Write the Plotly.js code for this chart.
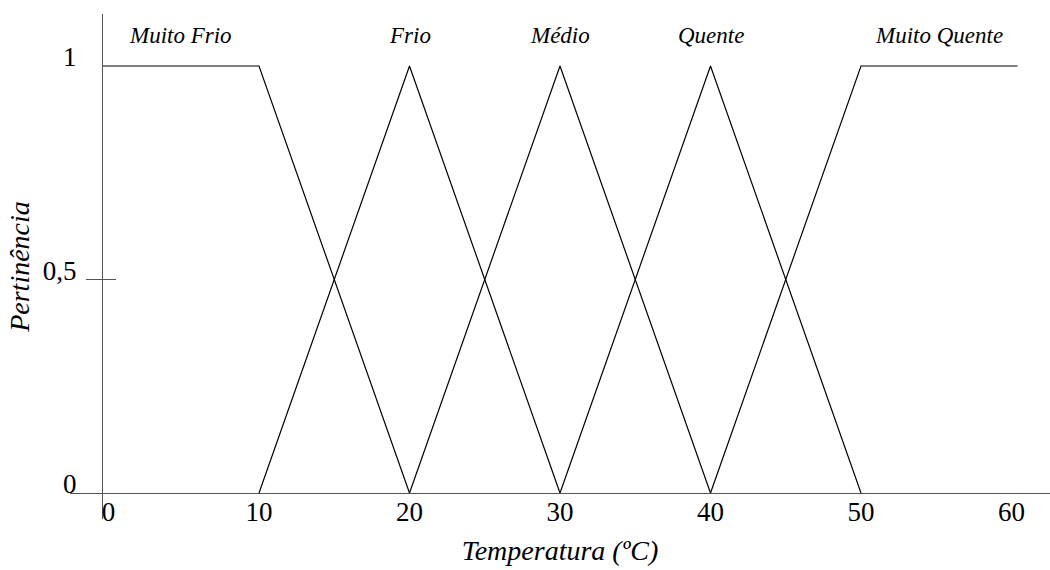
<!DOCTYPE html>
<html>
<head>
<meta charset="utf-8">
<script src="https://cdn.plot.ly/plotly-3.0.1.min.js"></script>
<style>html,body{margin:0;padding:0;background:#fff;}#chart{width:1050px;height:570px;}</style>
</head>
<body>
<div id="chart"></div>
<script>
// Fuzzy membership functions (temperature in ºC, membership 0..1)
const seriesNames = ["Muito Frio", "Frio", "Médio", "Quente", "Muito Quente"];
const muitoFrioX = [-0.43, 10, 20];
const muitoFrioY = [1, 1, 0];
const frioX = [10, 20, 30];
const frioY = [0, 1, 0];
const medioX = [20, 30, 40];
const medioY = [0, 1, 0];
const quenteX = [30, 40, 50];
const quenteY = [0, 1, 0];
const muitoQuenteX = [40, 50, 60.4];
const muitoQuenteY = [0, 1, 1];

const xTickVals = [0, 10, 20, 30, 40, 50, 60];
const yTickVals = [0, 0.5, 1];
const yTickText = ["0", "0,5", "1"];
const xTitle = "Temperatura (ºC)";
const yTitle = "Pertinência";

const xs = [muitoFrioX, frioX, medioX, quenteX, muitoQuenteX];
const ys = [muitoFrioY, frioY, medioY, quenteY, muitoQuenteY];

const serif = "Liberation Serif, Times New Roman, serif";

const traces = seriesNames.map((name, i) => ({
  type: "scatter",
  mode: "lines",
  name: name,
  x: xs[i],
  y: ys[i],
  line: {color: "#000", width: 1.2},
  hoverinfo: "x+y+name"
}));

// label each function above the centre of its plateau / peak
const annotations = seriesNames.map((name, i) => {
  const top = xs[i].filter((v, k) => ys[i][k] === 1);
  const cx = top.reduce((a, b) => a + b, 0) / top.length;
  return {
    x: cx, y: 1, xref: "x", yref: "y",
    text: "<i>" + name + "</i>",
    showarrow: false,
    yanchor: "bottom",
    yshift: 16,
    font: {family: serif, size: 23, color: "#000"}
  };
});

const layout = {
  width: 1050, height: 570,
  margin: {l: 70, r: 0, t: 14, b: 51, pad: 0},
  paper_bgcolor: "#fff", plot_bgcolor: "#fff",
  showlegend: false,
  font: {family: serif, color: "#000"},
  xaxis: {
    range: [-2.558, 62.558],
    tickvals: xTickVals,
    ticktext: xTickVals.map(String),
    ticks: "",
    showgrid: false, zeroline: false,
    showline: true, linecolor: "#555", linewidth: 1,
    anchor: "free", position: 0.0515,
    tickfont: {family: serif, size: 27, color: "#000"},
    ticklabelstandoff: -5,
    title: {text: "<i>" + xTitle + "</i>", font: {family: serif, size: 28, color: "#000"}, standoff: 14}
  },
  yaxis: {
    range: [-0.0609, 1.1218],
    tickvals: yTickVals,
    ticktext: yTickText,
    ticks: "",
    showgrid: false, zeroline: false,
    showline: true, linecolor: "#555", linewidth: 1,
    anchor: "free", position: 0.03265,
    tickfont: {family: serif, size: 27, color: "#000"},
    ticklabelstandoff: 20,
    ticklabelshift: -9,
    title: {text: "<i>" + yTitle + "</i>", font: {family: serif, size: 28, color: "#000"}, standoff: 4}
  },
  shapes: [{
    type: "line", xref: "paper", yref: "y",
    x0: 0.0163, x1: 0.0469, y0: 0.5, y1: 0.5,
    line: {color: "#555", width: 1}
  }],
  annotations: annotations
};

Plotly.newPlot("chart", traces, layout, {displayModeBar: false, staticPlot: true});
</script>
</body>
</html>
